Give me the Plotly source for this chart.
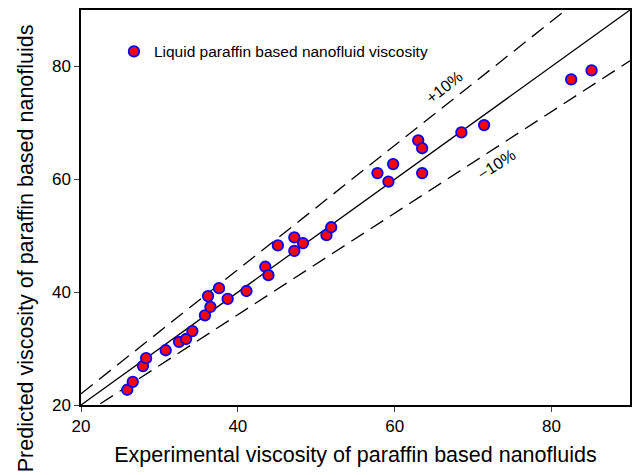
import plotly.graph_objects as go

experimental = [25.9, 26.6, 27.9, 28.3, 30.8, 32.5, 33.4, 34.2, 35.8, 36.2, 36.5, 37.6,
                38.7, 41.1, 43.5, 43.9, 45.1, 47.2, 47.2, 48.3, 51.3, 51.9, 57.8, 59.2,
                59.8, 63.0, 63.5, 63.5, 68.5, 71.4, 82.5, 85.1]
predicted = [22.7, 24.1, 26.9, 28.3, 29.7, 31.2, 31.7, 33.1, 35.9, 39.3, 37.4, 40.7,
             38.8, 40.2, 44.5, 43.0, 48.3, 49.7, 47.3, 48.7, 50.1, 51.5, 61.1, 59.6,
             62.7, 66.9, 65.5, 61.1, 68.3, 69.6, 77.7, 79.3]
line_x = [20, 90]
upper_factor = 1.1
lower_factor = 0.9
tick_vals = [20, 40, 60, 80]

FONT = "Liberation Sans, Arial, sans-serif"

fig = go.Figure()
fig.add_trace(go.Scatter(x=line_x, y=[v for v in line_x], mode="lines",
                         line=dict(color="black", width=1.3), showlegend=False, hoverinfo="skip"))
fig.add_trace(go.Scatter(x=line_x, y=[v * upper_factor for v in line_x], mode="lines",
                         line=dict(color="black", width=1.3, dash="15px,8px"), showlegend=False, hoverinfo="skip"))
fig.add_trace(go.Scatter(x=line_x, y=[v * lower_factor for v in line_x], mode="lines",
                         line=dict(color="black", width=1.3, dash="15px,8px"), showlegend=False, hoverinfo="skip"))
fig.add_trace(go.Scatter(x=experimental, y=predicted, mode="markers",
                         name="Liquid paraffin based nanofluid viscosity",
                         marker=dict(color="red", size=10.5, line=dict(color="blue", width=1.8))))

fig.add_annotation(x=66.3, y=76.2, text="+10%", showarrow=False, textangle=-38,
                   font=dict(family=FONT, size=16, color="black"))
fig.add_annotation(x=73.0, y=62.6, text="\u221210%", showarrow=False, textangle=-33,
                   font=dict(family=FONT, size=16, color="black"))

fig.add_annotation(xref="paper", yref="paper", x=-0.1, y=0.397, textangle=-90,
                   text="Predicted viscosity of paraffin based nanofluids", showarrow=False,
                   xanchor="center", yanchor="middle",
                   font=dict(family=FONT, size=21.5, color="black"))

fig.update_layout(
    width=633, height=475,
    margin=dict(l=81, r=1, t=10, b=70),
    paper_bgcolor="white", plot_bgcolor="white",
    font=dict(family=FONT, color="black"),
    showlegend=True,
    legend=dict(x=0.06, y=0.894, xanchor="left", yanchor="middle",
                bgcolor="rgba(0,0,0,0)", font=dict(family=FONT, size=15.5, color="black")),
    xaxis=dict(range=[20, 90], tickvals=tick_vals, ticks="outside", ticklen=5, tickwidth=1.3,
               showline=True, linecolor="black", linewidth=1.5, mirror=True, showgrid=False,
               zeroline=False, tickfont=dict(family=FONT, size=17, color="black"),
               title=dict(text="Experimental viscosity of paraffin based nanofluids",
                          font=dict(family=FONT, size=21.5, color="black"), standoff=12)),
    yaxis=dict(range=[20, 90], tickvals=tick_vals, ticks="outside", ticklen=5, tickwidth=1.3,
               showline=True, linecolor="black", linewidth=1.5, mirror=True, showgrid=False,
               zeroline=False, tickfont=dict(family=FONT, size=17, color="black")),
)

fig.write_html("out.html")
